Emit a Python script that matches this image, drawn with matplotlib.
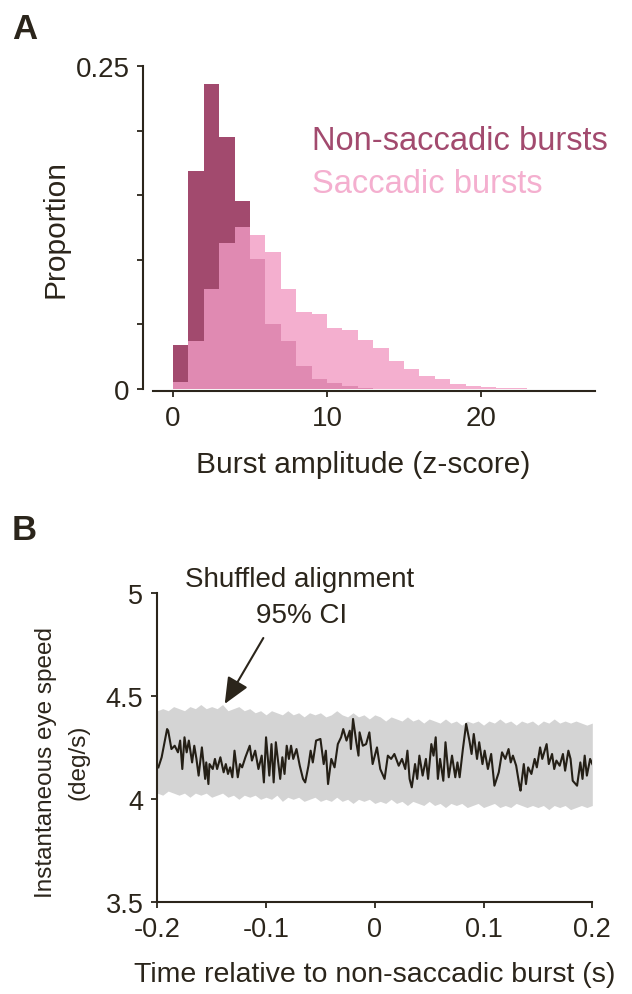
import numpy as np
import matplotlib
matplotlib.use("Agg")
import matplotlib.pyplot as plt

plt.rcParams['font.family'] = ['Liberation Sans', 'DejaVu Sans']
plt.rcParams['axes.unicode_minus'] = False

# ---- panel A: burst amplitude histograms (bin width 1 z) ----
bin_edges = np.arange(0, 26)
non_saccadic = [0.0343, 0.169, 0.236, 0.1953, 0.1457, 0.1006, 0.0503, 0.0374,
                0.0178, 0.0077, 0.0046, 0.0023, 0.0008, 0, 0, 0, 0, 0, 0, 0,
                0, 0, 0, 0, 0]
saccadic = [0.0055, 0.0369, 0.0774, 0.1128, 0.1252, 0.1192, 0.1058, 0.0774,
            0.0598, 0.0578, 0.047, 0.0457, 0.038, 0.0317, 0.0219, 0.0155,
            0.010, 0.0075, 0.0039, 0.0023, 0.0015, 0.001, 0.0005, 0.0003, 0.0002]
a_xticks = [0, 10, 20]
a_yticks = [0, 0.05, 0.10, 0.15, 0.20, 0.25]
a_yticklabels = ['0', '', '', '', '', '0.25']

# ---- panel B: eye speed aligned to non-saccadic bursts ----
trace_ms = [-199, -196, -191, -190, -187, -184, -181, -179, -177, -175, -173, -171,
            -168, -166, -164, -162, -159, -156, -155, -153, -152, -149, -147, -145,
            -142, -139, -137, -135, -133, -131, -129, -126, -124, -122, -119, -115,
            -113, -110, -107, -104, -102, -100, -97, -95, -93, -91, -87, -85, -83,
            -81, -79, -77, -75, -72, -69, -66, -64, -61, -59, -57, -54, -50, -47,
            -45, -43, -40, -37, -34, -31, -29, -26, -23, -22, -20, -17, -15, -14,
            -11, -8, -5, -2, 2, 5, 9, 12, 15, 18, 22, 25, 28, 30, 32, 34, 37, 39,
            41, 44, 47, 49, 52, 54, 56, 58, 60, 63, 65, 68, 71, 74, 76, 78, 81, 84,
            87, 89, 91, 94, 96, 99, 101, 104, 107, 110, 114, 117, 120, 123, 125,
            127, 130, 133, 134, 137, 139, 141, 144, 147, 149, 152, 154, 158, 160,
            163, 165, 167, 170, 173, 175, 178, 180, 182, 186, 189, 191, 193, 195,
            198, 200]
trace_speed = [4.155, 4.204, 4.341, 4.333, 4.244, 4.260, 4.228, 4.285, 4.147, 4.301,
               4.228, 4.285, 4.179, 4.260, 4.196, 4.115, 4.252, 4.099, 4.179, 4.074,
               4.171, 4.147, 4.196, 4.147, 4.204, 4.131, 4.171, 4.123, 4.155, 4.107,
               4.236, 4.107, 4.171, 4.155, 4.204, 4.260, 4.188, 4.236, 4.147, 4.212,
               4.082, 4.301, 4.115, 4.268, 4.082, 4.277, 4.099, 4.204, 4.123, 4.260,
               4.196, 4.260, 4.196, 4.244, 4.163, 4.099, 4.082, 4.163, 4.236, 4.179,
               4.285, 4.293, 4.171, 4.236, 4.074, 4.196, 4.155, 4.268, 4.301, 4.341,
               4.285, 4.333, 4.244, 4.390, 4.277, 4.212, 4.325, 4.260, 4.268, 4.325,
               4.171, 4.252, 4.147, 4.099, 4.212, 4.196, 4.220, 4.163, 4.196, 4.147,
               4.236, 4.099, 4.058, 4.171, 4.099, 4.212, 4.115, 4.196, 4.099, 4.268,
               4.212, 4.301, 4.099, 4.196, 4.090, 4.277, 4.107, 4.212, 4.107, 4.179,
               4.107, 4.244, 4.366, 4.285, 4.220, 4.317, 4.196, 4.277, 4.171, 4.236,
               4.147, 4.220, 4.066, 4.131, 4.228, 4.196, 4.244, 4.179, 4.212, 4.163,
               4.066, 4.042, 4.171, 4.074, 4.155, 4.123, 4.196, 4.155, 4.252, 4.196,
               4.268, 4.171, 4.220, 4.147, 4.188, 4.163, 4.220, 4.139, 4.236, 4.196,
               4.090, 4.066, 4.179, 4.099, 4.212, 4.115, 4.196, 4.171]
band_ms = np.arange(-200, 201, 5)
band_upper = [4.43, 4.44, 4.43, 4.45, 4.44, 4.43, 4.45, 4.44, 4.46, 4.44,
              4.45, 4.44, 4.46, 4.43, 4.44, 4.45, 4.43, 4.44, 4.42, 4.43,
              4.41, 4.43, 4.42, 4.41, 4.43, 4.41, 4.42, 4.40, 4.42, 4.41,
              4.42, 4.40, 4.41, 4.43, 4.41, 4.40, 4.42, 4.40, 4.41, 4.39,
              4.41, 4.40, 4.38, 4.40, 4.39, 4.38, 4.40, 4.38, 4.39, 4.37,
              4.39, 4.38, 4.37, 4.39, 4.37, 4.38, 4.36, 4.38, 4.37, 4.38,
              4.36, 4.38, 4.37, 4.39, 4.37, 4.38, 4.36, 4.38, 4.37, 4.38,
              4.36, 4.38, 4.37, 4.39, 4.37, 4.38, 4.37, 4.38, 4.37, 4.36,
              4.37]
band_lower = [4.03, 4.02, 4.04, 4.03, 4.02, 4.03, 4.01, 4.03, 4.02, 4.03,
              4.01, 4.02, 4.03, 4.01, 4.02, 4.00, 4.02, 4.01, 4.02, 4.00,
              4.01, 4.00, 4.02, 3.99, 4.01, 4.00, 4.01, 3.99, 4.00, 4.01,
              3.99, 4.00, 3.99, 4.01, 3.99, 4.00, 3.98, 4.00, 3.99, 4.00,
              3.98, 3.99, 3.98, 4.00, 3.98, 3.99, 3.97, 3.99, 3.98, 3.97,
              3.99, 3.97, 3.98, 3.96, 3.98, 3.97, 3.98, 3.96, 3.97, 3.98,
              3.96, 3.97, 3.98, 3.96, 3.97, 3.96, 3.98, 3.97, 3.96, 3.97,
              3.96, 3.97, 3.95, 3.97, 3.96, 3.97, 3.95, 3.96, 3.97, 3.96,
              3.97]
b_xticks = [-0.2, -0.1, 0, 0.1, 0.2]
b_xticklabels = ['-0.2', '-0.1', '0', '0.1', '0.2']
b_yticks = [3.5, 4, 4.5, 5]
b_yticklabels = ['3.5', '4', '4.5', '5']

ink = '#2b251b'
dark_pink = '#a24a6e'
light_pink = '#f4afcf'
mid_pink = '#e08ab2'
W, H = 632, 995

fig = plt.figure(figsize=(W / 100, H / 100), dpi=100)


def style_axes(ax):
    for s in ['top', 'right']:
        ax.spines[s].set_visible(False)
    for s in ['left', 'bottom']:
        ax.spines[s].set_color(ink)
        ax.spines[s].set_linewidth(1.5)
    ax.tick_params(colors=ink, width=1.3, length=4, direction='out')


# panel A
axA = fig.add_axes([153 / W, 1 - 390 / H, (595 - 153) / W, 323 / H])
left = bin_edges[:-1]
axA.bar(left, saccadic, width=1, align='edge', color=light_pink, linewidth=0)
axA.bar(left, non_saccadic, width=1, align='edge', color=dark_pink, linewidth=0)
axA.bar(left, np.minimum(saccadic, non_saccadic), width=1, align='edge',
        color=mid_pink, linewidth=0)
axA.set_xlim(-1.3, 27.4)
axA.set_ylim(0, 0.25)
style_axes(axA)
axA.spines['left'].set_position(('outward', 7))
axA.spines['bottom'].set_position(('outward', 1.5))
axA.set_xticks(a_xticks)
axA.set_yticks(a_yticks)
axA.set_yticklabels(a_yticklabels)
axA.tick_params(labelsize=20, pad=6)
axA.text(9, 0.1858, 'Non-saccadic bursts', color=dark_pink, fontsize=23.5, va='baseline')
axA.text(9, 0.1525, 'Saccadic bursts', color=light_pink, fontsize=23.5, va='baseline')
fig.text(363 / W, 1 - 465 / H, 'Burst amplitude (z-score)', ha='center', va='center',
         fontsize=21.5, color=ink)
fig.text(55 / W, 1 - 229 / H, 'Proportion', ha='center', va='center', rotation=90,
         fontsize=21.5, color=ink)

# panel B
axB = fig.add_axes([157.3 / W, 1 - 903.3 / H, 435 / W, 309 / H])
axB.fill_between(band_ms / 1000, band_lower, band_upper, color='#d4d4d4', linewidth=0)
axB.plot(np.array(trace_ms) / 1000, trace_speed, color='#241f16', linewidth=1.5)
axB.set_xlim(-0.2, 0.2)
axB.set_ylim(3.5, 5)
style_axes(axB)
axB.set_xticks(b_xticks)
axB.set_xticklabels(b_xticklabels)
axB.set_yticks(b_yticks)
axB.set_yticklabels(b_yticklabels)
axB.tick_params(labelsize=19.5, pad=6)
axB.annotate('', xy=(-0.138, 4.463), xytext=(-0.1025, 4.783),
             arrowprops=dict(arrowstyle='-|>,head_length=0.8,head_width=0.35',
                             color=ink, lw=1.5, mutation_scale=20, shrinkA=0, shrinkB=0),
             annotation_clip=False)
axB.text(-0.069, 5.037, 'Shuffled alignment', ha='center', va='baseline', fontsize=20,
         color=ink, clip_on=False)
axB.text(-0.067, 4.861, '95% CI', ha='center', va='baseline', fontsize=20,
         color=ink, clip_on=False)
fig.text(375 / W, 1 - 975 / H, 'Time relative to non-saccadic burst (s)', ha='center',
         va='center', fontsize=20.5, color=ink)
fig.text(62 / W, 1 - 762 / H, 'Instantaneous eye speed\n(deg/s)', ha='center',
         va='center', rotation=90, fontsize=17.5, color=ink, multialignment='center',
         linespacing=1.6)

fig.text(12 / W, 1 - 39 / H, 'A', fontsize=25, weight='bold', color=ink, va='baseline')
fig.text(12 / W, 1 - 540 / H, 'B', fontsize=25, weight='bold', color=ink, va='baseline')

fig.savefig('out.png', dpi=100)
